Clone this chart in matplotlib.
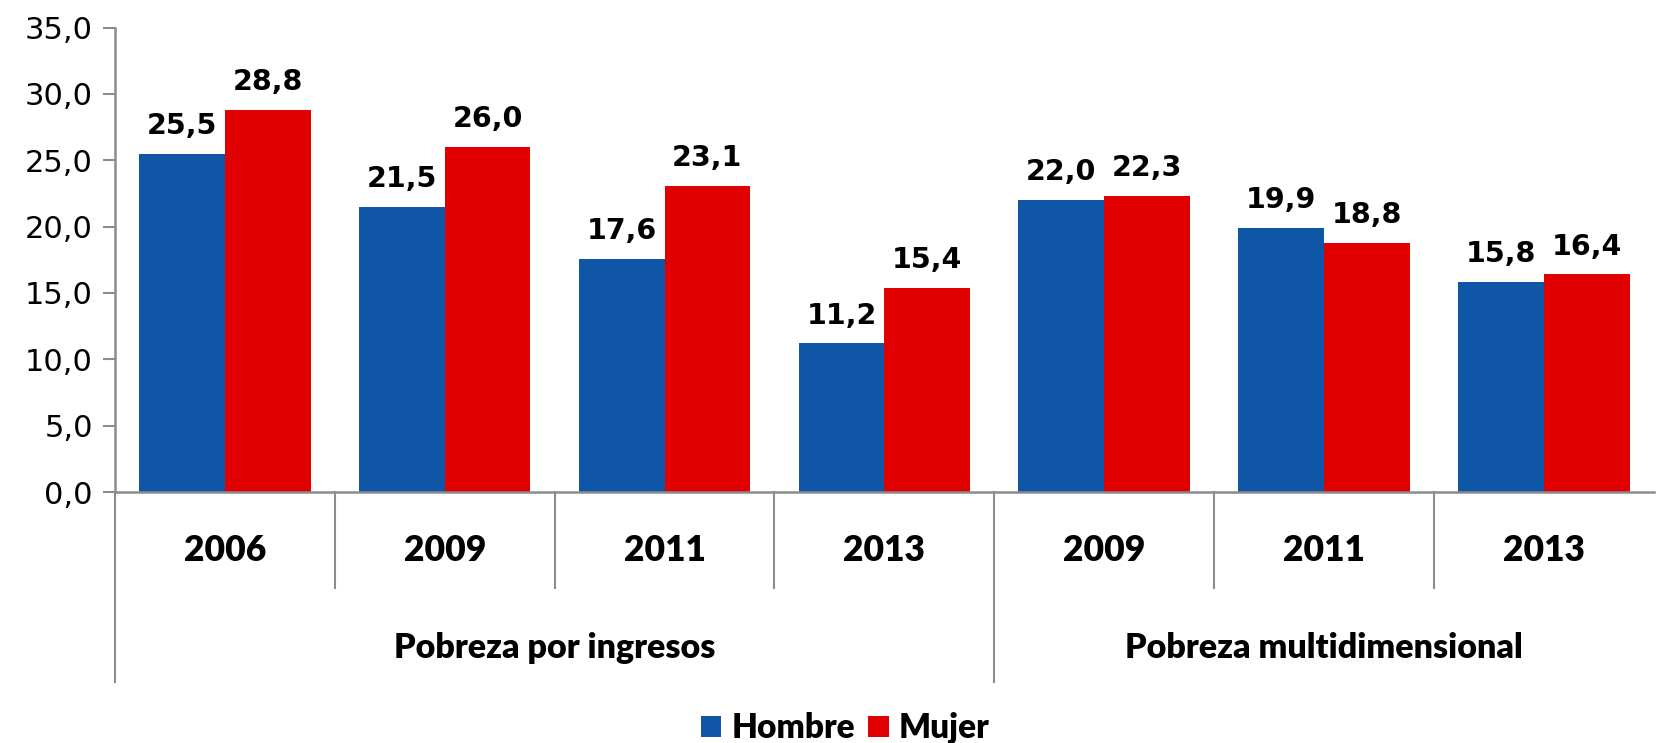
import numpy as np
import matplotlib
matplotlib.use("Agg")
import matplotlib.pyplot as plt
from matplotlib.transforms import blended_transform_factory

# data
years = ['2006', '2009', '2011', '2013', '2009', '2011', '2013']
groups = ['Pobreza por ingresos', 'Pobreza multidimensional']
group_sizes = [4, 3]
hombre = [25.5, 21.5, 17.6, 11.2, 22.0, 19.9, 15.8]
mujer = [28.8, 26.0, 23.1, 15.4, 22.3, 18.8, 16.4]
yticks = [0, 5, 10, 15, 20, 25, 30, 35]
ytick_labels = ['0,0', '5,0', '10,0', '15,0', '20,0', '25,0', '30,0', '35,0']

blue = '#0F56A7'
red = '#E00000'
grey = '#8C8C8C'

fig = plt.figure(figsize=(16.57, 7.43), dpi=100)
ax = fig.add_axes([0.0694, 0.3378, 0.9286, 0.625])

x = np.arange(len(years))
w = 0.39
b1 = ax.bar(x - w / 2, hombre, w, color=blue, label='Hombre')
b2 = ax.bar(x + w / 2, mujer, w, color=red, label='Mujer')

for bars, vals in [(b1, hombre), (b2, mujer)]:
    for r, v in zip(bars, vals):
        ax.annotate(('%.1f' % v).replace('.', ','),
                    (r.get_x() + r.get_width() / 2, r.get_height()),
                    xytext=(0, 10), textcoords='offset points',
                    ha='center', va='bottom', fontsize=20.5,
                    fontweight='bold', family='DejaVu Sans')

ax.set_xlim(-0.5, len(years) - 0.5)
ax.set_ylim(0, 35)
ax.set_yticks(yticks)
ax.set_yticklabels(ytick_labels, fontsize=22, family='DejaVu Sans')
ax.tick_params(axis='y', length=9, width=1.5, color=grey, pad=7)
ax.set_xticks([])

for s in ['top', 'right']:
    ax.spines[s].set_visible(False)
for s in ['left', 'bottom']:
    ax.spines[s].set_color(grey)
    ax.spines[s].set_linewidth(1.8)

# multi-level category axis
tr = blended_transform_factory(ax.transData, ax.transAxes)
edges = np.cumsum([0] + group_sizes) - 0.5
for i in range(len(years)):
    xe = i - 0.5
    low = -0.409 if xe in edges else -0.207
    ax.plot([xe, xe], [0, low], transform=tr, color=grey, lw=1.5,
            clip_on=False)

for i, yr in enumerate(years):
    ax.text(i, -0.126, yr, transform=tr, ha='center', va='center',
            fontsize=25.5, fontweight='heavy', family='Lato')

for k, g in enumerate(groups):
    mid = (edges[k] + edges[k + 1]) / 2
    ax.text(mid, -0.335, g, transform=tr, ha='center', va='center',
            fontsize=24.5, fontweight='heavy', family='Lato')

fig.legend(handles=[b1, b2], loc='center', bbox_to_anchor=(0.51, 0.02),
           ncol=2, frameon=False, handlelength=0.62, handleheight=0.62,
           handletextpad=0.3, columnspacing=0.4,
           prop={'family': 'Lato', 'weight': 'heavy', 'size': 24})

fig.savefig('out.png', dpi=100)
